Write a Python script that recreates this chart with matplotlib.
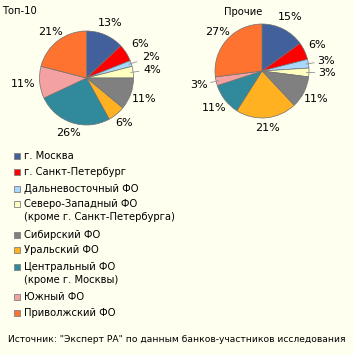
import numpy as np
import matplotlib.pyplot as plt
from matplotlib.patches import Rectangle

# Доли регионов, %
regions = ["г. Москва", "г. Санкт-Петербург", "Дальневосточный ФО",
           "Северо-Западный ФО\n(кроме г. Санкт-Петербурга)", "Сибирский ФО",
           "Уральский ФО", "Центральный ФО\n(кроме г. Москвы)", "Южный ФО",
           "Приволжский ФО"]
top10 = [13, 6, 2, 4, 11, 6, 26, 11, 21]
others = [15, 6, 3, 3, 11, 21, 11, 3, 27]
colors = ["#41609c", "#ff0000", "#a8d8ff", "#ffffc0", "#808080",
          "#ffb121", "#318a9c", "#f4a1a1", "#ff7331"]
bg = "#fffff0"

W, H = 354, 355
fig = plt.figure(figsize=(W / 100, H / 100), dpi=100, facecolor=bg)
plt.rcParams['font.family'] = ['DejaVu Sans']
FS = 7.2

R = 47  # радиус пирога в пикселях
L = 1.7  # пределы осей


def pie_axes(cx, cy):
    half = L * R
    return fig.add_axes([(cx - half) / W, (H - cy - half) / H, 2 * half / W, 2 * half / H])


def draw(ax, vals, dist):
    wedges, _ = ax.pie(vals, colors=colors, startangle=90, counterclock=False,
                       radius=1, wedgeprops=dict(edgecolor="#707070", linewidth=0.5))
    for w, v, d in zip(wedges, vals, dist):
        ang = np.deg2rad((w.theta1 + w.theta2) / 2)
        x, y = np.cos(ang), np.sin(ang)
        if d > 1.35:
            ax.plot([0.95 * x, 1.12 * x], [0.95 * y, 1.12 * y], color="#909090", lw=0.6)
        ax.text(d * x, d * y, f"{v}%", ha='center', va='center', fontsize=FS + 0.8)
    ax.set_xlim(-L, L)
    ax.set_ylim(-L, L)
    ax.set_aspect('equal')
    ax.axis('off')


ax1 = pie_axes(86.5, 78)
draw(ax1, top10, [1.28, 1.35, 1.45, 1.42, 1.3, 1.25, 1.22, 1.35, 1.25])
ax2 = pie_axes(262, 71)
draw(ax2, others, [1.3, 1.3, 1.38, 1.38, 1.3, 1.22, 1.3, 1.38, 1.25])

fig.text(2 / W, 1 - 11 / H, "Топ-10", fontsize=FS, va='center', ha='left')
fig.text(243 / W, 1 - 12 / H, "Прочие", fontsize=FS, va='center', ha='center')

# Легенда
rows = [156, 172, 189, 204, 235, 250, 267, 297, 313]
for name, c, y in zip(regions, colors, rows):
    fig.patches.append(Rectangle(((14) / W, 1 - (y + 3) / H), 6 / W, 6 / H,
                                 transform=fig.transFigure, facecolor=c,
                                 edgecolor="#808080", linewidth=0.6))
    fig.text(24 / W, 1 - (y - 5) / H, name, fontsize=FS, va='top', ha='left',
             linespacing=1.35)

fig.text(8 / W, 1 - 340 / H, 'Источник: "Эксперт РА" по данным банков-участников исследования',
         fontsize=FS - 0.6, va='center', ha='left')

fig.savefig("out.png", dpi=100, facecolor=bg)
